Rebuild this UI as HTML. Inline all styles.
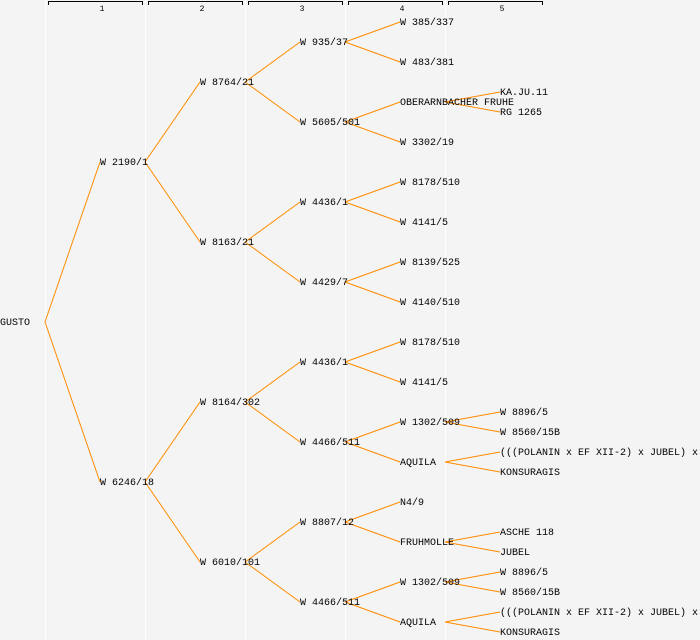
<!DOCTYPE html>
<html><head><meta charset="utf-8"><style>
html,body{margin:0;padding:0;background:#f4f4f4}
svg{display:block}
text{font-family:"Liberation Mono","DejaVu Sans Mono",monospace;font-size:10px;fill:#000}
.h{font-size:8px}
</style></head><body>
<svg width="700" height="640" xmlns="http://www.w3.org/2000/svg">
<rect width="700" height="640" fill="#f4f4f4"/>
<g stroke="#ffffff" stroke-width="1">
<line x1="45.5" y1="0" x2="45.5" y2="640"/>
<line x1="145.5" y1="0" x2="145.5" y2="640"/>
<line x1="245.5" y1="0" x2="245.5" y2="640"/>
<line x1="345.5" y1="0" x2="345.5" y2="640"/>
<line x1="445.5" y1="0" x2="445.5" y2="640"/>
</g>
<g stroke="#000" stroke-width="1" fill="none">
<path d="M48.5,5V1.5H142.5V5"/>
<path d="M148.5,5V1.5H242.5V5"/>
<path d="M248.5,5V1.5H342.5V5"/>
<path d="M348.5,5V1.5H442.5V5"/>
<path d="M448.5,5V1.5H542.5V5"/>
</g>
<g text-anchor="middle">
<text class="h" x="102" y="11">1</text>
<text class="h" x="202" y="11">2</text>
<text class="h" x="302" y="11">3</text>
<text class="h" x="402" y="11">4</text>
<text class="h" x="502" y="11">5</text>
</g>
<g stroke="#ff8c00" stroke-width="1" fill="none">
<line x1="45" y1="322" x2="100" y2="162"/><line x1="45" y1="322" x2="100" y2="482"/>
<line x1="145" y1="162" x2="200" y2="82"/><line x1="145" y1="162" x2="200" y2="242"/>
<line x1="145" y1="482" x2="200" y2="402"/><line x1="145" y1="482" x2="200" y2="562"/>
<line x1="245" y1="82" x2="300" y2="42"/><line x1="245" y1="82" x2="300" y2="122"/>
<line x1="245" y1="242" x2="300" y2="202"/><line x1="245" y1="242" x2="300" y2="282"/>
<line x1="245" y1="402" x2="300" y2="362"/><line x1="245" y1="402" x2="300" y2="442"/>
<line x1="245" y1="562" x2="300" y2="522"/><line x1="245" y1="562" x2="300" y2="602"/>
<line x1="345" y1="42" x2="400" y2="22"/><line x1="345" y1="42" x2="400" y2="62"/>
<line x1="345" y1="122" x2="400" y2="102"/><line x1="345" y1="122" x2="400" y2="142"/>
<line x1="345" y1="202" x2="400" y2="182"/><line x1="345" y1="202" x2="400" y2="222"/>
<line x1="345" y1="282" x2="400" y2="262"/><line x1="345" y1="282" x2="400" y2="302"/>
<line x1="345" y1="362" x2="400" y2="342"/><line x1="345" y1="362" x2="400" y2="382"/>
<line x1="345" y1="442" x2="400" y2="422"/><line x1="345" y1="442" x2="400" y2="462"/>
<line x1="345" y1="522" x2="400" y2="502"/><line x1="345" y1="522" x2="400" y2="542"/>
<line x1="345" y1="602" x2="400" y2="582"/><line x1="345" y1="602" x2="400" y2="622"/>
<line x1="445" y1="102" x2="500" y2="92"/><line x1="445" y1="102" x2="500" y2="112"/>
<line x1="445" y1="422" x2="500" y2="412"/><line x1="445" y1="422" x2="500" y2="432"/>
<line x1="445" y1="462" x2="500" y2="452"/><line x1="445" y1="462" x2="500" y2="472"/>
<line x1="445" y1="542" x2="500" y2="532"/><line x1="445" y1="542" x2="500" y2="552"/>
<line x1="445" y1="582" x2="500" y2="572"/><line x1="445" y1="582" x2="500" y2="592"/>
<line x1="445" y1="622" x2="500" y2="612"/><line x1="445" y1="622" x2="500" y2="632"/>
</g>
<g>
<text x="0" y="325">GUSTO</text>
<text x="100" y="165">W 2190/1</text>
<text x="100" y="485">W 6246/18</text>
<text x="200" y="85">W 8764/21</text>
<text x="200" y="245">W 8163/21</text>
<text x="200" y="405">W 8164/302</text>
<text x="200" y="565">W 6010/101</text>
<text x="300" y="45">W 935/37</text>
<text x="300" y="125">W 5605/501</text>
<text x="300" y="205">W 4436/1</text>
<text x="300" y="285">W 4429/7</text>
<text x="300" y="365">W 4436/1</text>
<text x="300" y="445">W 4466/511</text>
<text x="300" y="525">W 8807/12</text>
<text x="300" y="605">W 4466/511</text>
<text x="400" y="25">W 385/337</text>
<text x="400" y="65">W 483/381</text>
<text x="400" y="105">OBERARNBACHER FRUHE</text>
<text x="400" y="145">W 3302/19</text>
<text x="400" y="185">W 8178/510</text>
<text x="400" y="225">W 4141/5</text>
<text x="400" y="265">W 8139/525</text>
<text x="400" y="305">W 4140/510</text>
<text x="400" y="345">W 8178/510</text>
<text x="400" y="385">W 4141/5</text>
<text x="400" y="425">W 1302/509</text>
<text x="400" y="465">AQUILA</text>
<text x="400" y="505">N4/9</text>
<text x="400" y="545">FRUHMOLLE</text>
<text x="400" y="585">W 1302/509</text>
<text x="400" y="625">AQUILA</text>
<text x="500" y="95">KA.JU.11</text>
<text x="500" y="115">RG 1265</text>
<text x="500" y="415">W 8896/5</text>
<text x="500" y="435">W 8560/15B</text>
<text x="500" y="455">(((POLANIN x EF XII-2) x JUBEL) x</text>
<text x="500" y="475">KONSURAGIS</text>
<text x="500" y="535">ASCHE 118</text>
<text x="500" y="555">JUBEL</text>
<text x="500" y="575">W 8896/5</text>
<text x="500" y="595">W 8560/15B</text>
<text x="500" y="615">(((POLANIN x EF XII-2) x JUBEL) x</text>
<text x="500" y="635">KONSURAGIS</text>
</g>
</svg>
</body></html>
